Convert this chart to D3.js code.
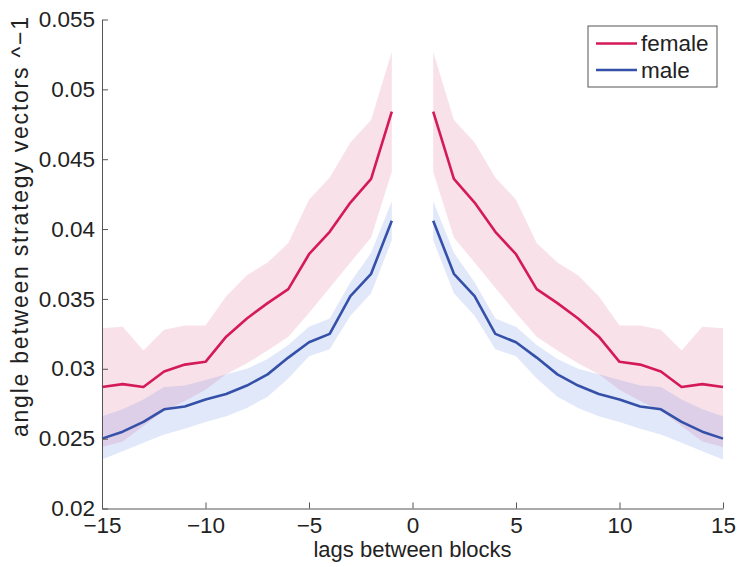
<!DOCTYPE html>
<html>
<head>
<meta charset="utf-8">
<script src="https://cdn.jsdelivr.net/npm/d3@7"></script>
<style>
  body { margin: 0; background: #fff; }
  svg { display: block; font-family: "Liberation Sans", Arial, sans-serif; }
</style>
</head>
<body>
<div id="wrapper"></div>
<script>
const FEMALE_COLOR = "#d41a5a";
const MALE_COLOR = "#3550a8";
const FEMALE_BAND = "rgb(220,80,130)";
const MALE_BAND = "rgb(80,120,220)";

const lags = [-15, -14, -13, -12, -11, -10, -9, -8, -7, -6, -5, -4, -3, -2, -1,
  1, 2, 3, 4, 5, 6, 7, 8, 9, 10, 11, 12, 13, 14, 15];

const femaleMean = [0.0287, 0.0289, 0.0287, 0.0298, 0.0303, 0.0305, 0.0323, 0.0336, 0.0347, 0.0357, 0.0382, 0.0398, 0.0419, 0.0436, 0.0484,
  0.0484, 0.0436, 0.0419, 0.0398, 0.0382, 0.0357, 0.0347, 0.0336, 0.0323, 0.0305, 0.0303, 0.0298, 0.0287, 0.0289, 0.0287];
const femaleUpper = [0.0329, 0.0330, 0.0313, 0.0328, 0.0331, 0.0331, 0.0352, 0.0367, 0.0376, 0.0390, 0.0421, 0.0437, 0.0462, 0.0478, 0.0527,
  0.0527, 0.0478, 0.0462, 0.0437, 0.0421, 0.0390, 0.0376, 0.0367, 0.0352, 0.0331, 0.0331, 0.0328, 0.0313, 0.0330, 0.0329];
const femaleLower = [0.0244, 0.0248, 0.0259, 0.0270, 0.0277, 0.0285, 0.0296, 0.0304, 0.0313, 0.0323, 0.0340, 0.0358, 0.0376, 0.0394, 0.0441,
  0.0441, 0.0394, 0.0376, 0.0358, 0.0340, 0.0323, 0.0313, 0.0304, 0.0296, 0.0285, 0.0277, 0.0270, 0.0259, 0.0248, 0.0244];

const maleMean = [0.0250, 0.0255, 0.0262, 0.0271, 0.0273, 0.0278, 0.0282, 0.0288, 0.0296, 0.0308, 0.0319, 0.0325, 0.0352, 0.0368, 0.0406,
  0.0406, 0.0368, 0.0352, 0.0325, 0.0319, 0.0308, 0.0296, 0.0288, 0.0282, 0.0278, 0.0273, 0.0271, 0.0262, 0.0255, 0.0250];
const maleUpper = [0.0266, 0.0271, 0.0278, 0.0287, 0.0288, 0.0292, 0.0296, 0.0300, 0.0307, 0.0317, 0.0330, 0.0336, 0.0362, 0.0383, 0.0420,
  0.0420, 0.0383, 0.0362, 0.0336, 0.0330, 0.0317, 0.0307, 0.0300, 0.0296, 0.0292, 0.0288, 0.0287, 0.0278, 0.0271, 0.0266];
const maleLower = [0.0235, 0.0241, 0.0247, 0.0253, 0.0257, 0.0262, 0.0266, 0.0272, 0.0280, 0.0293, 0.0309, 0.0314, 0.0338, 0.0354, 0.0392,
  0.0392, 0.0354, 0.0338, 0.0314, 0.0309, 0.0293, 0.0280, 0.0272, 0.0266, 0.0262, 0.0257, 0.0253, 0.0247, 0.0241, 0.0235];

const xTicks = [-15, -10, -5, 0, 5, 10, 15];
const yTicks = [0.02, 0.025, 0.03, 0.035, 0.04, 0.045, 0.05, 0.055];
const seriesNames = ["female", "male"];

const FONT_SIZE = "22.5px";

function drawChart() {
  let dimensions = {
    width: 739,
    height: 567,
    margin: { top: 19.5, right: 16, bottom: 58.5, left: 102 }
  };
  dimensions.boundedWidth = dimensions.width - dimensions.margin.left - dimensions.margin.right;
  dimensions.boundedHeight = dimensions.height - dimensions.margin.top - dimensions.margin.bottom;

  const wrapper = d3.select("#wrapper")
    .append("svg")
    .attr("width", dimensions.width)
    .attr("height", dimensions.height);

  const bounds = wrapper.append("g")
    .attr("transform", `translate(${dimensions.margin.left}, ${dimensions.margin.top})`);

  const xScale = d3.scaleLinear()
    .domain([-15, 15])
    .range([0, dimensions.boundedWidth]);
  const yScale = d3.scaleLinear()
    .domain([0.02, 0.055])
    .range([dimensions.boundedHeight, 0]);

  // two halves, nothing drawn at lag 0
  const idx = lags.map((d, i) => i);
  const halves = [idx.filter(i => lags[i] < 0), idx.filter(i => lags[i] > 0)];

  const series = [
    { name: "female", mean: femaleMean, upper: femaleUpper, lower: femaleLower, color: FEMALE_COLOR, band: FEMALE_BAND },
    { name: "male", mean: maleMean, upper: maleUpper, lower: maleLower, color: MALE_COLOR, band: MALE_BAND }
  ];

  series.forEach(s => {
    const area = d3.area()
      .x(i => xScale(lags[i]))
      .y0(i => yScale(s.lower[i]))
      .y1(i => yScale(s.upper[i]));
    halves.forEach(h => {
      bounds.append("path")
        .attr("d", area(h))
        .attr("fill", s.band)
        .attr("fill-opacity", 0.17);
    });
  });

  series.forEach(s => {
    const line = d3.line()
      .x(i => xScale(lags[i]))
      .y(i => yScale(s.mean[i]));
    halves.forEach(h => {
      bounds.append("path")
        .attr("d", line(h))
        .attr("fill", "none")
        .attr("stroke", s.color)
        .attr("stroke-width", 2.6)
        .attr("stroke-linejoin", "round");
    });
  });

  const xAxis = bounds.append("g")
    .attr("transform", `translate(0, ${dimensions.boundedHeight})`)
    .call(d3.axisBottom(xScale).tickValues(xTicks).tickSizeInner(-6).tickSizeOuter(0)
      .tickFormat(d => d < 0 ? "\u2212" + Math.abs(d) : d));
  xAxis.selectAll("text").attr("y", 24.5).attr("dy", null);

  const yAxis = bounds.append("g")
    .call(d3.axisLeft(yScale).tickValues(yTicks).tickSizeInner(-6).tickSizeOuter(0)
      .tickFormat(d => d3.format("")(+d.toFixed(3))));
  yAxis.selectAll("text").attr("x", -7);

  [xAxis, yAxis].forEach(ax => {
    ax.select(".domain").attr("stroke", "#555").attr("stroke-width", 1);
    ax.selectAll(".tick line").attr("stroke", "#555");
    ax.selectAll("text").attr("fill", "#222").style("font-size", FONT_SIZE)
      .style("font-family", "Liberation Sans, Arial, sans-serif");
  });

  bounds.append("text")
    .attr("x", dimensions.boundedWidth / 2)
    .attr("y", dimensions.boundedHeight + 48)
    .attr("text-anchor", "middle")
    .attr("fill", "#222")
    .style("font-size", "22px")
    .text("lags between blocks");

  wrapper.append("text")
    .attr("transform", `translate(28, 227) rotate(-90)`)
    .attr("text-anchor", "middle")
    .attr("fill", "#222")
    .style("font-size", "23px")
    .attr("textLength", 420)
    .attr("lengthAdjust", "spacing")
    .text("angle between strategy vectors ^\u22121");

  // legend
  const legend = wrapper.append("g")
    .attr("transform", "translate(588, 26)");
  legend.append("rect")
    .attr("width", 129)
    .attr("height", 61)
    .attr("fill", "#fff")
    .attr("stroke", "#555")
    .attr("stroke-width", 1);
  const items = legend.selectAll(".item")
    .data(series)
    .enter().append("g")
    .attr("transform", (d, i) => `translate(0, ${17.5 + i * 26.5})`);
  items.append("line")
    .attr("x1", 8).attr("x2", 49)
    .attr("stroke", d => d.color)
    .attr("stroke-width", 2.6);
  items.append("text")
    .attr("x", 53)
    .attr("dy", "0.35em")
    .attr("fill", "#222")
    .style("font-size", FONT_SIZE)
    .text((d, i) => seriesNames[i]);
}

drawChart();
</script>
</body>
</html>
